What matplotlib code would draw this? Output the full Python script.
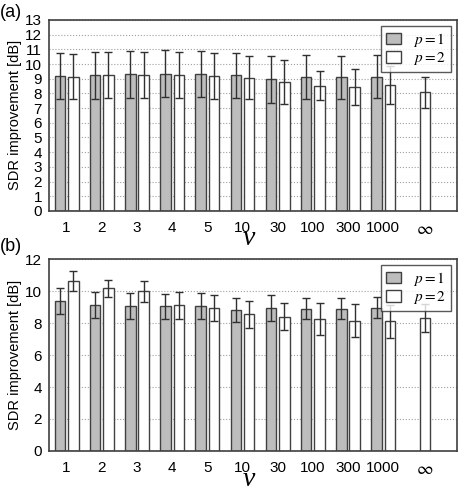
import numpy as np
import matplotlib
matplotlib.use('Agg')
import matplotlib.pyplot as plt

plt.rcParams['font.family'] = ['Liberation Sans', 'DejaVu Sans']
plt.rcParams['mathtext.fontset'] = 'stix'

# ##### DATA ######
nu_labels = ['1', '2', '3', '4', '5', '10', '30', '100', '300', '1000', r'$\infty$']

# (a)
a_p1_mean = [9.17, 9.24, 9.30, 9.35, 9.33, 9.22, 8.96, 9.12, 9.10, 9.15]
a_p1_std = [1.57, 1.60, 1.58, 1.58, 1.57, 1.51, 1.60, 1.49, 1.47, 1.47]
a_p2_mean = [9.13, 9.24, 9.26, 9.24, 9.20, 9.08, 8.76, 8.53, 8.42, 8.58, 8.08]
a_p2_std = [1.53, 1.58, 1.56, 1.55, 1.55, 1.45, 1.48, 0.98, 1.21, 1.27, 1.06]

# (b)
b_p1_mean = [9.36, 9.12, 9.06, 9.04, 9.04, 8.83, 8.92, 8.90, 8.90, 8.96]
b_p1_std = [0.82, 0.83, 0.81, 0.80, 0.81, 0.76, 0.82, 0.67, 0.66, 0.66]
b_p2_mean = [10.63, 10.17, 9.98, 9.10, 8.94, 8.54, 8.39, 8.23, 8.14, 8.10, 8.31]
b_p2_std = [0.61, 0.52, 0.64, 0.84, 0.81, 0.85, 0.84, 1.00, 1.04, 1.03, 0.88]
##################

x = np.arange(len(nu_labels))
w = 0.30
off = 0.19
gray = '#bdbdbd'
edge = '#404040'


def draw_panel(ax, p1_mean, p1_std, p2_mean, p2_std, ymax, ystep):
    n1 = len(p1_mean)
    ekw = dict(ecolor='#303030', elinewidth=1.0, capsize=3, capthick=1.0)
    ax.bar(x[:n1] - off, p1_mean, w, yerr=p1_std, color=gray, edgecolor=edge,
           linewidth=1.0, error_kw=ekw, label='$p = 1$', zorder=2)
    ax.bar(x + off, p2_mean, w, yerr=p2_std, color='white', edgecolor=edge,
           linewidth=1.0, error_kw=ekw, label='$p = 2$', zorder=2)
    ax.set_xlim(-0.5, 11.1)
    ax.set_ylim(0, ymax)
    ax.set_yticks(np.arange(0, ymax + 1, ystep))
    ticks = list(x[:n1]) + [x[-1] + off]
    ax.set_xticks(ticks)
    ax.set_xticklabels(nu_labels)
    ax.tick_params(axis='both', length=0, labelsize=11, pad=5)
    ax.tick_params(axis='x', pad=7)
    ax.get_xticklabels()[-1].set_fontsize(13)
    ax.yaxis.grid(True, linestyle=':', color='#a0a0a0', linewidth=0.8, zorder=0)
    ax.set_axisbelow(True)
    for s in ax.spines.values():
        s.set_color('#404040')
        s.set_linewidth(1.2)
    ax.set_ylabel('SDR improvement [dB]', fontsize=10.5, labelpad=2)
    ax.set_xlabel('ν', fontsize=20, family='Liberation Serif', style='italic',
                  va='baseline')
    ax.xaxis.set_label_coords(0.49, -0.18)
    leg = ax.legend(loc='upper right', fontsize=11, frameon=True, fancybox=False,
                    edgecolor='#303030', handlelength=1.0, handleheight=0.8,
                    handletextpad=0.8, borderpad=0.3, labelspacing=0.1,
                    borderaxespad=0.4)
    leg.get_frame().set_linewidth(1.0)


fig = plt.figure(figsize=(4.58, 4.87), dpi=100)
ax1 = fig.add_axes([0.107, 0.567, 0.891, 0.392])
ax2 = fig.add_axes([0.107, 0.074, 0.891, 0.394])

draw_panel(ax1, a_p1_mean, a_p1_std, a_p2_mean, a_p2_std, 13, 1)
draw_panel(ax2, b_p1_mean, b_p1_std, b_p2_mean, b_p2_std, 12, 2)

fig.text(0.0, 0.975, '(a)', fontsize=13, va='center', ha='left')
fig.text(0.0, 0.493, '(b)', fontsize=13, va='center', ha='left')

plt.savefig('out.png', dpi=100)
plt.close()
